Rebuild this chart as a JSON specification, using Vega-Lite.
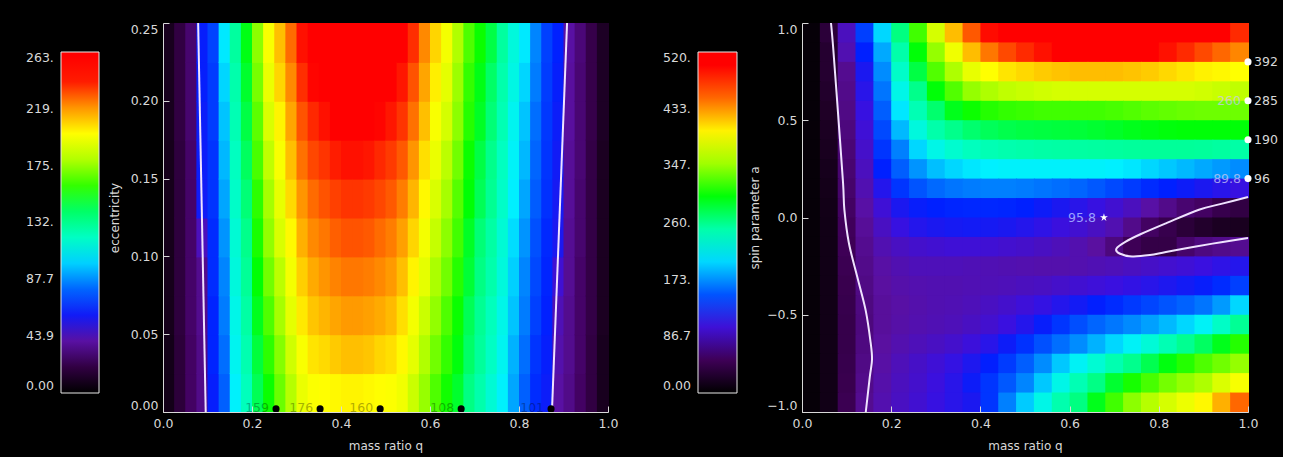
{
"$schema": "https://vega.github.io/schema/vega-lite/v6.json",
"background": "black",
"padding": {"left": 61, "top": 19, "right": 5, "bottom": 5},
"bounds": "flush",
"spacing": 194,
"resolve": {"scale": {"color": "independent"}, "legend": {"color": "independent"}},
"datasets": {
"lh": [
{"q":0,"e":0,"v":8},{"q":0,"e":0.025,"v":8},{"q":0,"e":0.05,"v":9},{"q":0,"e":0.075,"v":9},{"q":0,"e":0.1,"v":9},{"q":0,"e":0.125,"v":9},{"q":0,"e":0.15,"v":9},{"q":0,"e":0.175,"v":10},{"q":0,"e":0.2,"v":10},{"q":0,"e":0.225,"v":10},
{"q":0.025,"e":0,"v":18},{"q":0.025,"e":0.025,"v":18},{"q":0.025,"e":0.05,"v":19},{"q":0.025,"e":0.075,"v":19},{"q":0.025,"e":0.1,"v":19},{"q":0.025,"e":0.125,"v":19},{"q":0.025,"e":0.15,"v":19},{"q":0.025,"e":0.175,"v":20},{"q":0.025,"e":0.2,"v":20},{"q":0.025,"e":0.225,"v":20},
{"q":0.05,"e":0,"v":28},{"q":0.05,"e":0.025,"v":28},{"q":0.05,"e":0.05,"v":29},{"q":0.05,"e":0.075,"v":29},{"q":0.05,"e":0.1,"v":29},{"q":0.05,"e":0.125,"v":29},{"q":0.05,"e":0.15,"v":29},{"q":0.05,"e":0.175,"v":30},{"q":0.05,"e":0.2,"v":30},{"q":0.05,"e":0.225,"v":30},
{"q":0.075,"e":0,"v":35},{"q":0.075,"e":0.025,"v":35},{"q":0.075,"e":0.05,"v":36},{"q":0.075,"e":0.075,"v":36},{"q":0.075,"e":0.1,"v":45},{"q":0.075,"e":0.125,"v":60},{"q":0.075,"e":0.15,"v":61},{"q":0.075,"e":0.175,"v":61},{"q":0.075,"e":0.2,"v":62},{"q":0.075,"e":0.225,"v":62},
{"q":0.1,"e":0,"v":62},{"q":0.1,"e":0.025,"v":64},{"q":0.1,"e":0.05,"v":64},{"q":0.1,"e":0.075,"v":66},{"q":0.1,"e":0.1,"v":66},{"q":0.1,"e":0.125,"v":68},{"q":0.1,"e":0.15,"v":68},{"q":0.1,"e":0.175,"v":70},{"q":0.1,"e":0.2,"v":70},{"q":0.1,"e":0.225,"v":72},
{"q":0.125,"e":0,"v":79},{"q":0.125,"e":0.025,"v":82},{"q":0.125,"e":0.05,"v":85},{"q":0.125,"e":0.075,"v":87},{"q":0.125,"e":0.1,"v":90},{"q":0.125,"e":0.125,"v":93},{"q":0.125,"e":0.15,"v":96},{"q":0.125,"e":0.175,"v":98},{"q":0.125,"e":0.2,"v":101},{"q":0.125,"e":0.225,"v":104},
{"q":0.15,"e":0,"v":106},{"q":0.15,"e":0.025,"v":109},{"q":0.15,"e":0.05,"v":111},{"q":0.15,"e":0.075,"v":114},{"q":0.15,"e":0.1,"v":116},{"q":0.15,"e":0.125,"v":119},{"q":0.15,"e":0.15,"v":121},{"q":0.15,"e":0.175,"v":124},{"q":0.15,"e":0.2,"v":126},{"q":0.15,"e":0.225,"v":129},
{"q":0.175,"e":0,"v":122},{"q":0.175,"e":0.025,"v":125},{"q":0.175,"e":0.05,"v":128},{"q":0.175,"e":0.075,"v":131},{"q":0.175,"e":0.1,"v":134},{"q":0.175,"e":0.125,"v":138},{"q":0.175,"e":0.15,"v":141},{"q":0.175,"e":0.175,"v":144},{"q":0.175,"e":0.2,"v":147},{"q":0.175,"e":0.225,"v":150},
{"q":0.2,"e":0,"v":142},{"q":0.2,"e":0.025,"v":145},{"q":0.2,"e":0.05,"v":149},{"q":0.2,"e":0.075,"v":152},{"q":0.2,"e":0.1,"v":156},{"q":0.2,"e":0.125,"v":159},{"q":0.2,"e":0.15,"v":163},{"q":0.2,"e":0.175,"v":166},{"q":0.2,"e":0.2,"v":170},{"q":0.2,"e":0.225,"v":173},
{"q":0.225,"e":0,"v":154},{"q":0.225,"e":0.025,"v":159},{"q":0.225,"e":0.05,"v":164},{"q":0.225,"e":0.075,"v":169},{"q":0.225,"e":0.1,"v":174},{"q":0.225,"e":0.125,"v":178},{"q":0.225,"e":0.15,"v":183},{"q":0.225,"e":0.175,"v":188},{"q":0.225,"e":0.2,"v":193},{"q":0.225,"e":0.225,"v":198},
{"q":0.25,"e":0,"v":168},{"q":0.25,"e":0.025,"v":172},{"q":0.25,"e":0.05,"v":178},{"q":0.25,"e":0.075,"v":182},{"q":0.25,"e":0.1,"v":188},{"q":0.25,"e":0.125,"v":192},{"q":0.25,"e":0.15,"v":198},{"q":0.25,"e":0.175,"v":202},{"q":0.25,"e":0.2,"v":208},{"q":0.25,"e":0.225,"v":212},
{"q":0.275,"e":0,"v":181},{"q":0.275,"e":0.025,"v":186},{"q":0.275,"e":0.05,"v":191},{"q":0.275,"e":0.075,"v":196},{"q":0.275,"e":0.1,"v":201},{"q":0.275,"e":0.125,"v":207},{"q":0.275,"e":0.15,"v":212},{"q":0.275,"e":0.175,"v":217},{"q":0.275,"e":0.2,"v":222},{"q":0.275,"e":0.225,"v":227},
{"q":0.3,"e":0,"v":193},{"q":0.3,"e":0.025,"v":198},{"q":0.3,"e":0.05,"v":204},{"q":0.3,"e":0.075,"v":209},{"q":0.3,"e":0.1,"v":215},{"q":0.3,"e":0.125,"v":220},{"q":0.3,"e":0.15,"v":226},{"q":0.3,"e":0.175,"v":231},{"q":0.3,"e":0.2,"v":237},{"q":0.3,"e":0.225,"v":242},
{"q":0.325,"e":0,"v":199},{"q":0.325,"e":0.025,"v":205},{"q":0.325,"e":0.05,"v":211},{"q":0.325,"e":0.075,"v":216},{"q":0.325,"e":0.1,"v":222},{"q":0.325,"e":0.125,"v":227},{"q":0.325,"e":0.15,"v":233},{"q":0.325,"e":0.175,"v":238},{"q":0.325,"e":0.2,"v":244},{"q":0.325,"e":0.225,"v":249},
{"q":0.35,"e":0,"v":200},{"q":0.35,"e":0.025,"v":207},{"q":0.35,"e":0.05,"v":214},{"q":0.35,"e":0.075,"v":220},{"q":0.35,"e":0.1,"v":225},{"q":0.35,"e":0.125,"v":231},{"q":0.35,"e":0.15,"v":236},{"q":0.35,"e":0.175,"v":242},{"q":0.35,"e":0.2,"v":248},{"q":0.35,"e":0.225,"v":253},
{"q":0.375,"e":0,"v":201},{"q":0.375,"e":0.025,"v":210},{"q":0.375,"e":0.05,"v":217},{"q":0.375,"e":0.075,"v":223},{"q":0.375,"e":0.1,"v":229},{"q":0.375,"e":0.125,"v":234},{"q":0.375,"e":0.15,"v":240},{"q":0.375,"e":0.175,"v":246},{"q":0.375,"e":0.2,"v":251},{"q":0.375,"e":0.225,"v":257},
{"q":0.4,"e":0,"v":202},{"q":0.4,"e":0.025,"v":212},{"q":0.4,"e":0.05,"v":219},{"q":0.4,"e":0.075,"v":225},{"q":0.4,"e":0.1,"v":231},{"q":0.4,"e":0.125,"v":236},{"q":0.4,"e":0.15,"v":242},{"q":0.4,"e":0.175,"v":248},{"q":0.4,"e":0.2,"v":253},{"q":0.4,"e":0.225,"v":259},
{"q":0.425,"e":0,"v":202},{"q":0.425,"e":0.025,"v":212},{"q":0.425,"e":0.05,"v":219},{"q":0.425,"e":0.075,"v":225},{"q":0.425,"e":0.1,"v":231},{"q":0.425,"e":0.125,"v":236},{"q":0.425,"e":0.15,"v":242},{"q":0.425,"e":0.175,"v":248},{"q":0.425,"e":0.2,"v":253},{"q":0.425,"e":0.225,"v":260},
{"q":0.45,"e":0,"v":201},{"q":0.45,"e":0.025,"v":211},{"q":0.45,"e":0.05,"v":218},{"q":0.45,"e":0.075,"v":224},{"q":0.45,"e":0.1,"v":230},{"q":0.45,"e":0.125,"v":235},{"q":0.45,"e":0.15,"v":241},{"q":0.45,"e":0.175,"v":247},{"q":0.45,"e":0.2,"v":252},{"q":0.45,"e":0.225,"v":258},
{"q":0.475,"e":0,"v":200},{"q":0.475,"e":0.025,"v":208},{"q":0.475,"e":0.05,"v":216},{"q":0.475,"e":0.075,"v":222},{"q":0.475,"e":0.1,"v":227},{"q":0.475,"e":0.125,"v":233},{"q":0.475,"e":0.15,"v":238},{"q":0.475,"e":0.175,"v":244},{"q":0.475,"e":0.2,"v":250},{"q":0.475,"e":0.225,"v":255},
{"q":0.5,"e":0,"v":199},{"q":0.5,"e":0.025,"v":206},{"q":0.5,"e":0.05,"v":213},{"q":0.5,"e":0.075,"v":219},{"q":0.5,"e":0.1,"v":224},{"q":0.5,"e":0.125,"v":230},{"q":0.5,"e":0.15,"v":235},{"q":0.5,"e":0.175,"v":241},{"q":0.5,"e":0.2,"v":247},{"q":0.5,"e":0.225,"v":252},
{"q":0.525,"e":0,"v":195},{"q":0.525,"e":0.025,"v":201},{"q":0.525,"e":0.05,"v":206},{"q":0.525,"e":0.075,"v":212},{"q":0.525,"e":0.1,"v":218},{"q":0.525,"e":0.125,"v":224},{"q":0.525,"e":0.15,"v":230},{"q":0.525,"e":0.175,"v":236},{"q":0.525,"e":0.2,"v":241},{"q":0.525,"e":0.225,"v":247},
{"q":0.55,"e":0,"v":185},{"q":0.55,"e":0.025,"v":191},{"q":0.55,"e":0.05,"v":196},{"q":0.55,"e":0.075,"v":202},{"q":0.55,"e":0.1,"v":208},{"q":0.55,"e":0.125,"v":214},{"q":0.55,"e":0.15,"v":220},{"q":0.55,"e":0.175,"v":226},{"q":0.55,"e":0.2,"v":231},{"q":0.55,"e":0.225,"v":237},
{"q":0.575,"e":0,"v":175},{"q":0.575,"e":0.025,"v":180},{"q":0.575,"e":0.05,"v":185},{"q":0.575,"e":0.075,"v":191},{"q":0.575,"e":0.1,"v":196},{"q":0.575,"e":0.125,"v":201},{"q":0.575,"e":0.15,"v":206},{"q":0.575,"e":0.175,"v":212},{"q":0.575,"e":0.2,"v":217},{"q":0.575,"e":0.225,"v":222},
{"q":0.6,"e":0,"v":164},{"q":0.6,"e":0.025,"v":169},{"q":0.6,"e":0.05,"v":174},{"q":0.6,"e":0.075,"v":179},{"q":0.6,"e":0.1,"v":184},{"q":0.6,"e":0.125,"v":188},{"q":0.6,"e":0.15,"v":193},{"q":0.6,"e":0.175,"v":198},{"q":0.6,"e":0.2,"v":203},{"q":0.6,"e":0.225,"v":208},
{"q":0.625,"e":0,"v":155},{"q":0.625,"e":0.025,"v":160},{"q":0.625,"e":0.05,"v":164},{"q":0.625,"e":0.075,"v":169},{"q":0.625,"e":0.1,"v":173},{"q":0.625,"e":0.125,"v":178},{"q":0.625,"e":0.15,"v":182},{"q":0.625,"e":0.175,"v":187},{"q":0.625,"e":0.2,"v":191},{"q":0.625,"e":0.225,"v":196},
{"q":0.65,"e":0,"v":147},{"q":0.65,"e":0.025,"v":151},{"q":0.65,"e":0.05,"v":154},{"q":0.65,"e":0.075,"v":158},{"q":0.65,"e":0.1,"v":162},{"q":0.65,"e":0.125,"v":165},{"q":0.65,"e":0.15,"v":169},{"q":0.65,"e":0.175,"v":173},{"q":0.65,"e":0.2,"v":176},{"q":0.65,"e":0.225,"v":180},
{"q":0.675,"e":0,"v":136},{"q":0.675,"e":0.025,"v":140},{"q":0.675,"e":0.05,"v":142},{"q":0.675,"e":0.075,"v":146},{"q":0.675,"e":0.1,"v":148},{"q":0.675,"e":0.125,"v":152},{"q":0.675,"e":0.15,"v":154},{"q":0.675,"e":0.175,"v":158},{"q":0.675,"e":0.2,"v":160},{"q":0.675,"e":0.225,"v":164},
{"q":0.7,"e":0,"v":126},{"q":0.7,"e":0.025,"v":130},{"q":0.7,"e":0.05,"v":132},{"q":0.7,"e":0.075,"v":136},{"q":0.7,"e":0.1,"v":138},{"q":0.7,"e":0.125,"v":142},{"q":0.7,"e":0.15,"v":144},{"q":0.7,"e":0.175,"v":148},{"q":0.7,"e":0.2,"v":150},{"q":0.7,"e":0.225,"v":154},
{"q":0.725,"e":0,"v":116},{"q":0.725,"e":0.025,"v":120},{"q":0.725,"e":0.05,"v":122},{"q":0.725,"e":0.075,"v":126},{"q":0.725,"e":0.1,"v":128},{"q":0.725,"e":0.125,"v":132},{"q":0.725,"e":0.15,"v":134},{"q":0.725,"e":0.175,"v":138},{"q":0.725,"e":0.2,"v":140},{"q":0.725,"e":0.225,"v":144},
{"q":0.75,"e":0,"v":106},{"q":0.75,"e":0.025,"v":109},{"q":0.75,"e":0.05,"v":111},{"q":0.75,"e":0.075,"v":114},{"q":0.75,"e":0.1,"v":116},{"q":0.75,"e":0.125,"v":119},{"q":0.75,"e":0.15,"v":121},{"q":0.75,"e":0.175,"v":124},{"q":0.75,"e":0.2,"v":126},{"q":0.75,"e":0.225,"v":129},
{"q":0.775,"e":0,"v":93},{"q":0.775,"e":0.025,"v":95},{"q":0.775,"e":0.05,"v":98},{"q":0.775,"e":0.075,"v":100},{"q":0.775,"e":0.1,"v":102},{"q":0.775,"e":0.125,"v":105},{"q":0.775,"e":0.15,"v":107},{"q":0.775,"e":0.175,"v":109},{"q":0.775,"e":0.2,"v":112},{"q":0.775,"e":0.225,"v":114},
{"q":0.8,"e":0,"v":79},{"q":0.8,"e":0.025,"v":82},{"q":0.8,"e":0.05,"v":85},{"q":0.8,"e":0.075,"v":87},{"q":0.8,"e":0.1,"v":90},{"q":0.8,"e":0.125,"v":93},{"q":0.8,"e":0.15,"v":96},{"q":0.8,"e":0.175,"v":98},{"q":0.8,"e":0.2,"v":101},{"q":0.8,"e":0.225,"v":104},
{"q":0.825,"e":0,"v":66},{"q":0.825,"e":0.025,"v":68},{"q":0.825,"e":0.05,"v":71},{"q":0.825,"e":0.075,"v":73},{"q":0.825,"e":0.1,"v":75},{"q":0.825,"e":0.125,"v":78},{"q":0.825,"e":0.15,"v":80},{"q":0.825,"e":0.175,"v":82},{"q":0.825,"e":0.2,"v":85},{"q":0.825,"e":0.225,"v":87},
{"q":0.85,"e":0,"v":61},{"q":0.85,"e":0.025,"v":62},{"q":0.85,"e":0.05,"v":63},{"q":0.85,"e":0.075,"v":64},{"q":0.85,"e":0.1,"v":65},{"q":0.85,"e":0.125,"v":67},{"q":0.85,"e":0.15,"v":68},{"q":0.85,"e":0.175,"v":69},{"q":0.85,"e":0.2,"v":70},{"q":0.85,"e":0.225,"v":71},
{"q":0.875,"e":0,"v":40},{"q":0.875,"e":0.025,"v":42},{"q":0.875,"e":0.05,"v":44},{"q":0.875,"e":0.075,"v":50},{"q":0.875,"e":0.1,"v":58},{"q":0.875,"e":0.125,"v":59},{"q":0.875,"e":0.15,"v":60},{"q":0.875,"e":0.175,"v":61},{"q":0.875,"e":0.2,"v":62},{"q":0.875,"e":0.225,"v":63},
{"q":0.9,"e":0,"v":35},{"q":0.9,"e":0.025,"v":36},{"q":0.9,"e":0.05,"v":36},{"q":0.9,"e":0.075,"v":37},{"q":0.9,"e":0.1,"v":37},{"q":0.9,"e":0.125,"v":38},{"q":0.9,"e":0.15,"v":38},{"q":0.9,"e":0.175,"v":39},{"q":0.9,"e":0.2,"v":39},{"q":0.9,"e":0.225,"v":40},
{"q":0.925,"e":0,"v":28},{"q":0.925,"e":0.025,"v":29},{"q":0.925,"e":0.05,"v":29},{"q":0.925,"e":0.075,"v":29},{"q":0.925,"e":0.1,"v":30},{"q":0.925,"e":0.125,"v":30},{"q":0.925,"e":0.15,"v":31},{"q":0.925,"e":0.175,"v":31},{"q":0.925,"e":0.2,"v":31},{"q":0.925,"e":0.225,"v":32},
{"q":0.95,"e":0,"v":20},{"q":0.95,"e":0.025,"v":20},{"q":0.95,"e":0.05,"v":21},{"q":0.95,"e":0.075,"v":21},{"q":0.95,"e":0.1,"v":21},{"q":0.95,"e":0.125,"v":21},{"q":0.95,"e":0.15,"v":21},{"q":0.95,"e":0.175,"v":22},{"q":0.95,"e":0.2,"v":22},{"q":0.95,"e":0.225,"v":22},
{"q":0.975,"e":0,"v":10},{"q":0.975,"e":0.025,"v":10},{"q":0.975,"e":0.05,"v":11},{"q":0.975,"e":0.075,"v":11},{"q":0.975,"e":0.1,"v":11},{"q":0.975,"e":0.125,"v":11},{"q":0.975,"e":0.15,"v":11},{"q":0.975,"e":0.175,"v":12},{"q":0.975,"e":0.2,"v":12},{"q":0.975,"e":0.225,"v":12}
],
"rh": [
{"a":0.9,"q":0,"v":5},{"a":0.9,"q":0.04,"v":35},{"a":0.9,"q":0.08,"v":90},{"a":0.9,"q":0.12,"v":140},{"a":0.9,"q":0.16,"v":200},{"a":0.9,"q":0.2,"v":270},{"a":0.9,"q":0.24,"v":320},{"a":0.9,"q":0.28,"v":370},{"a":0.9,"q":0.32,"v":420},{"a":0.9,"q":0.36,"v":455},{"a":0.9,"q":0.4,"v":480},{"a":0.9,"q":0.44,"v":495},{"a":0.9,"q":0.48,"v":505},{"a":0.9,"q":0.52,"v":510},{"a":0.9,"q":0.56,"v":515},{"a":0.9,"q":0.6,"v":518},{"a":0.9,"q":0.64,"v":518},{"a":0.9,"q":0.68,"v":518},{"a":0.9,"q":0.72,"v":515},{"a":0.9,"q":0.76,"v":512},{"a":0.9,"q":0.8,"v":508},{"a":0.9,"q":0.84,"v":500},{"a":0.9,"q":0.88,"v":495},{"a":0.9,"q":0.92,"v":485},{"a":0.9,"q":0.96,"v":470},
{"a":0.8,"q":0,"v":5},{"a":0.8,"q":0.04,"v":30},{"a":0.8,"q":0.08,"v":85},{"a":0.8,"q":0.12,"v":125},{"a":0.8,"q":0.16,"v":185},{"a":0.8,"q":0.2,"v":250},{"a":0.8,"q":0.24,"v":300},{"a":0.8,"q":0.28,"v":345},{"a":0.8,"q":0.32,"v":385},{"a":0.8,"q":0.36,"v":420},{"a":0.8,"q":0.4,"v":445},{"a":0.8,"q":0.44,"v":460},{"a":0.8,"q":0.48,"v":470},{"a":0.8,"q":0.52,"v":478},{"a":0.8,"q":0.56,"v":485},{"a":0.8,"q":0.6,"v":488},{"a":0.8,"q":0.64,"v":490},{"a":0.8,"q":0.68,"v":490},{"a":0.8,"q":0.72,"v":488},{"a":0.8,"q":0.76,"v":485},{"a":0.8,"q":0.8,"v":478},{"a":0.8,"q":0.84,"v":470},{"a":0.8,"q":0.88,"v":460},{"a":0.8,"q":0.92,"v":450},{"a":0.8,"q":0.96,"v":440},
{"a":0.7,"q":0,"v":5},{"a":0.7,"q":0.04,"v":30},{"a":0.7,"q":0.08,"v":72},{"a":0.7,"q":0.12,"v":115},{"a":0.7,"q":0.16,"v":175},{"a":0.7,"q":0.2,"v":235},{"a":0.7,"q":0.24,"v":285},{"a":0.7,"q":0.28,"v":325},{"a":0.7,"q":0.32,"v":355},{"a":0.7,"q":0.36,"v":380},{"a":0.7,"q":0.4,"v":395},{"a":0.7,"q":0.44,"v":405},{"a":0.7,"q":0.48,"v":410},{"a":0.7,"q":0.52,"v":415},{"a":0.7,"q":0.56,"v":418},{"a":0.7,"q":0.6,"v":420},{"a":0.7,"q":0.64,"v":420},{"a":0.7,"q":0.68,"v":420},{"a":0.7,"q":0.72,"v":418},{"a":0.7,"q":0.76,"v":415},{"a":0.7,"q":0.8,"v":410},{"a":0.7,"q":0.84,"v":405},{"a":0.7,"q":0.88,"v":400},{"a":0.7,"q":0.92,"v":398},{"a":0.7,"q":0.96,"v":395},
{"a":0.6,"q":0,"v":5},{"a":0.6,"q":0.04,"v":28},{"a":0.6,"q":0.08,"v":70},{"a":0.6,"q":0.12,"v":110},{"a":0.6,"q":0.16,"v":165},{"a":0.6,"q":0.2,"v":220},{"a":0.6,"q":0.24,"v":265},{"a":0.6,"q":0.28,"v":300},{"a":0.6,"q":0.32,"v":325},{"a":0.6,"q":0.36,"v":345},{"a":0.6,"q":0.4,"v":355},{"a":0.6,"q":0.44,"v":362},{"a":0.6,"q":0.48,"v":365},{"a":0.6,"q":0.52,"v":368},{"a":0.6,"q":0.56,"v":370},{"a":0.6,"q":0.6,"v":370},{"a":0.6,"q":0.64,"v":370},{"a":0.6,"q":0.68,"v":370},{"a":0.6,"q":0.72,"v":370},{"a":0.6,"q":0.76,"v":370},{"a":0.6,"q":0.8,"v":370},{"a":0.6,"q":0.84,"v":370},{"a":0.6,"q":0.88,"v":368},{"a":0.6,"q":0.92,"v":365},{"a":0.6,"q":0.96,"v":362},
{"a":0.5,"q":0,"v":5},{"a":0.5,"q":0.04,"v":25},{"a":0.5,"q":0.08,"v":68},{"a":0.5,"q":0.12,"v":105},{"a":0.5,"q":0.16,"v":155},{"a":0.5,"q":0.2,"v":205},{"a":0.5,"q":0.24,"v":245},{"a":0.5,"q":0.28,"v":275},{"a":0.5,"q":0.32,"v":295},{"a":0.5,"q":0.36,"v":305},{"a":0.5,"q":0.4,"v":312},{"a":0.5,"q":0.44,"v":316},{"a":0.5,"q":0.48,"v":318},{"a":0.5,"q":0.52,"v":320},{"a":0.5,"q":0.56,"v":320},{"a":0.5,"q":0.6,"v":320},{"a":0.5,"q":0.64,"v":320},{"a":0.5,"q":0.68,"v":322},{"a":0.5,"q":0.72,"v":325},{"a":0.5,"q":0.76,"v":328},{"a":0.5,"q":0.8,"v":330},{"a":0.5,"q":0.84,"v":332},{"a":0.5,"q":0.88,"v":333},{"a":0.5,"q":0.92,"v":333},{"a":0.5,"q":0.96,"v":333},
{"a":0.4,"q":0,"v":5},{"a":0.4,"q":0.04,"v":22},{"a":0.4,"q":0.08,"v":65},{"a":0.4,"q":0.12,"v":100},{"a":0.4,"q":0.16,"v":145},{"a":0.4,"q":0.2,"v":190},{"a":0.4,"q":0.24,"v":225},{"a":0.4,"q":0.28,"v":250},{"a":0.4,"q":0.32,"v":265},{"a":0.4,"q":0.36,"v":275},{"a":0.4,"q":0.4,"v":280},{"a":0.4,"q":0.44,"v":283},{"a":0.4,"q":0.48,"v":285},{"a":0.4,"q":0.52,"v":286},{"a":0.4,"q":0.56,"v":287},{"a":0.4,"q":0.6,"v":288},{"a":0.4,"q":0.64,"v":290},{"a":0.4,"q":0.68,"v":292},{"a":0.4,"q":0.72,"v":295},{"a":0.4,"q":0.76,"v":297},{"a":0.4,"q":0.8,"v":299},{"a":0.4,"q":0.84,"v":300},{"a":0.4,"q":0.88,"v":300},{"a":0.4,"q":0.92,"v":300},{"a":0.4,"q":0.96,"v":300},
{"a":0.3,"q":0,"v":5},{"a":0.3,"q":0.04,"v":20},{"a":0.3,"q":0.08,"v":62},{"a":0.3,"q":0.12,"v":95},{"a":0.3,"q":0.16,"v":135},{"a":0.3,"q":0.2,"v":170},{"a":0.3,"q":0.24,"v":200},{"a":0.3,"q":0.28,"v":220},{"a":0.3,"q":0.32,"v":232},{"a":0.3,"q":0.36,"v":240},{"a":0.3,"q":0.4,"v":245},{"a":0.3,"q":0.44,"v":248},{"a":0.3,"q":0.48,"v":250},{"a":0.3,"q":0.52,"v":252},{"a":0.3,"q":0.56,"v":253},{"a":0.3,"q":0.6,"v":254},{"a":0.3,"q":0.64,"v":255},{"a":0.3,"q":0.68,"v":256},{"a":0.3,"q":0.72,"v":257},{"a":0.3,"q":0.76,"v":258},{"a":0.3,"q":0.8,"v":258},{"a":0.3,"q":0.84,"v":258},{"a":0.3,"q":0.88,"v":257},{"a":0.3,"q":0.92,"v":255},{"a":0.3,"q":0.96,"v":252},
{"a":0.2,"q":0,"v":5},{"a":0.2,"q":0.04,"v":18},{"a":0.2,"q":0.08,"v":60},{"a":0.2,"q":0.12,"v":90},{"a":0.2,"q":0.16,"v":125},{"a":0.2,"q":0.2,"v":155},{"a":0.2,"q":0.24,"v":178},{"a":0.2,"q":0.28,"v":192},{"a":0.2,"q":0.32,"v":200},{"a":0.2,"q":0.36,"v":205},{"a":0.2,"q":0.4,"v":208},{"a":0.2,"q":0.44,"v":210},{"a":0.2,"q":0.48,"v":210},{"a":0.2,"q":0.52,"v":210},{"a":0.2,"q":0.56,"v":210},{"a":0.2,"q":0.6,"v":210},{"a":0.2,"q":0.64,"v":210},{"a":0.2,"q":0.68,"v":208},{"a":0.2,"q":0.72,"v":205},{"a":0.2,"q":0.76,"v":200},{"a":0.2,"q":0.8,"v":195},{"a":0.2,"q":0.84,"v":190},{"a":0.2,"q":0.88,"v":185},{"a":0.2,"q":0.92,"v":180},{"a":0.2,"q":0.96,"v":175},
{"a":0.1,"q":0,"v":5},{"a":0.1,"q":0.04,"v":16},{"a":0.1,"q":0.08,"v":58},{"a":0.1,"q":0.12,"v":85},{"a":0.1,"q":0.16,"v":112},{"a":0.1,"q":0.2,"v":135},{"a":0.1,"q":0.24,"v":150},{"a":0.1,"q":0.28,"v":160},{"a":0.1,"q":0.32,"v":165},{"a":0.1,"q":0.36,"v":168},{"a":0.1,"q":0.4,"v":170},{"a":0.1,"q":0.44,"v":170},{"a":0.1,"q":0.48,"v":168},{"a":0.1,"q":0.52,"v":165},{"a":0.1,"q":0.56,"v":162},{"a":0.1,"q":0.6,"v":158},{"a":0.1,"q":0.64,"v":152},{"a":0.1,"q":0.68,"v":145},{"a":0.1,"q":0.72,"v":138},{"a":0.1,"q":0.76,"v":130},{"a":0.1,"q":0.8,"v":125},{"a":0.1,"q":0.84,"v":120},{"a":0.1,"q":0.88,"v":115},{"a":0.1,"q":0.92,"v":110},{"a":0.1,"q":0.96,"v":105},
{"a":0,"q":0,"v":5},{"a":0,"q":0.04,"v":15},{"a":0,"q":0.08,"v":55},{"a":0,"q":0.12,"v":80},{"a":0,"q":0.16,"v":100},{"a":0,"q":0.2,"v":115},{"a":0,"q":0.24,"v":122},{"a":0,"q":0.28,"v":125},{"a":0,"q":0.32,"v":127},{"a":0,"q":0.36,"v":128},{"a":0,"q":0.4,"v":128},{"a":0,"q":0.44,"v":127},{"a":0,"q":0.48,"v":125},{"a":0,"q":0.52,"v":120},{"a":0,"q":0.56,"v":115},{"a":0,"q":0.6,"v":110},{"a":0,"q":0.64,"v":105},{"a":0,"q":0.68,"v":98},{"a":0,"q":0.72,"v":90},{"a":0,"q":0.76,"v":80},{"a":0,"q":0.8,"v":70},{"a":0,"q":0.84,"v":60},{"a":0,"q":0.88,"v":55},{"a":0,"q":0.92,"v":45},{"a":0,"q":0.96,"v":40},
{"a":-0.1,"q":0,"v":5},{"a":-0.1,"q":0.04,"v":14},{"a":-0.1,"q":0.08,"v":52},{"a":-0.1,"q":0.12,"v":75},{"a":-0.1,"q":0.16,"v":92},{"a":-0.1,"q":0.2,"v":105},{"a":-0.1,"q":0.24,"v":112},{"a":-0.1,"q":0.28,"v":115},{"a":-0.1,"q":0.32,"v":117},{"a":-0.1,"q":0.36,"v":118},{"a":-0.1,"q":0.4,"v":117},{"a":-0.1,"q":0.44,"v":115},{"a":-0.1,"q":0.48,"v":112},{"a":-0.1,"q":0.52,"v":108},{"a":-0.1,"q":0.56,"v":103},{"a":-0.1,"q":0.6,"v":98},{"a":-0.1,"q":0.64,"v":92},{"a":-0.1,"q":0.68,"v":85},{"a":-0.1,"q":0.72,"v":70},{"a":-0.1,"q":0.76,"v":55},{"a":-0.1,"q":0.8,"v":45},{"a":-0.1,"q":0.84,"v":35},{"a":-0.1,"q":0.88,"v":28},{"a":-0.1,"q":0.92,"v":22},{"a":-0.1,"q":0.96,"v":20},
{"a":-0.2,"q":0,"v":5},{"a":-0.2,"q":0.04,"v":14},{"a":-0.2,"q":0.08,"v":50},{"a":-0.2,"q":0.12,"v":72},{"a":-0.2,"q":0.16,"v":85},{"a":-0.2,"q":0.2,"v":92},{"a":-0.2,"q":0.24,"v":96},{"a":-0.2,"q":0.28,"v":98},{"a":-0.2,"q":0.32,"v":100},{"a":-0.2,"q":0.36,"v":100},{"a":-0.2,"q":0.4,"v":99},{"a":-0.2,"q":0.44,"v":97},{"a":-0.2,"q":0.48,"v":95},{"a":-0.2,"q":0.52,"v":92},{"a":-0.2,"q":0.56,"v":88},{"a":-0.2,"q":0.6,"v":84},{"a":-0.2,"q":0.64,"v":78},{"a":-0.2,"q":0.68,"v":65},{"a":-0.2,"q":0.72,"v":50},{"a":-0.2,"q":0.76,"v":42},{"a":-0.2,"q":0.8,"v":42},{"a":-0.2,"q":0.84,"v":58},{"a":-0.2,"q":0.88,"v":66},{"a":-0.2,"q":0.92,"v":70},{"a":-0.2,"q":0.96,"v":72},
{"a":-0.3,"q":0,"v":5},{"a":-0.3,"q":0.04,"v":14},{"a":-0.3,"q":0.08,"v":48},{"a":-0.3,"q":0.12,"v":70},{"a":-0.3,"q":0.16,"v":80},{"a":-0.3,"q":0.2,"v":85},{"a":-0.3,"q":0.24,"v":88},{"a":-0.3,"q":0.28,"v":88},{"a":-0.3,"q":0.32,"v":88},{"a":-0.3,"q":0.36,"v":87},{"a":-0.3,"q":0.4,"v":86},{"a":-0.3,"q":0.44,"v":85},{"a":-0.3,"q":0.48,"v":84},{"a":-0.3,"q":0.52,"v":83},{"a":-0.3,"q":0.56,"v":83},{"a":-0.3,"q":0.6,"v":84},{"a":-0.3,"q":0.64,"v":86},{"a":-0.3,"q":0.68,"v":88},{"a":-0.3,"q":0.72,"v":91},{"a":-0.3,"q":0.76,"v":94},{"a":-0.3,"q":0.8,"v":97},{"a":-0.3,"q":0.84,"v":100},{"a":-0.3,"q":0.88,"v":104},{"a":-0.3,"q":0.92,"v":108},{"a":-0.3,"q":0.96,"v":112},
{"a":-0.4,"q":0,"v":5},{"a":-0.4,"q":0.04,"v":14},{"a":-0.4,"q":0.08,"v":46},{"a":-0.4,"q":0.12,"v":68},{"a":-0.4,"q":0.16,"v":78},{"a":-0.4,"q":0.2,"v":82},{"a":-0.4,"q":0.24,"v":84},{"a":-0.4,"q":0.28,"v":85},{"a":-0.4,"q":0.32,"v":85},{"a":-0.4,"q":0.36,"v":86},{"a":-0.4,"q":0.4,"v":87},{"a":-0.4,"q":0.44,"v":88},{"a":-0.4,"q":0.48,"v":90},{"a":-0.4,"q":0.52,"v":92},{"a":-0.4,"q":0.56,"v":95},{"a":-0.4,"q":0.6,"v":98},{"a":-0.4,"q":0.64,"v":101},{"a":-0.4,"q":0.68,"v":104},{"a":-0.4,"q":0.72,"v":107},{"a":-0.4,"q":0.76,"v":110},{"a":-0.4,"q":0.8,"v":114},{"a":-0.4,"q":0.84,"v":118},{"a":-0.4,"q":0.88,"v":122},{"a":-0.4,"q":0.92,"v":130},{"a":-0.4,"q":0.96,"v":140},
{"a":-0.5,"q":0,"v":5},{"a":-0.5,"q":0.04,"v":14},{"a":-0.5,"q":0.08,"v":45},{"a":-0.5,"q":0.12,"v":66},{"a":-0.5,"q":0.16,"v":76},{"a":-0.5,"q":0.2,"v":80},{"a":-0.5,"q":0.24,"v":83},{"a":-0.5,"q":0.28,"v":85},{"a":-0.5,"q":0.32,"v":86},{"a":-0.5,"q":0.36,"v":88},{"a":-0.5,"q":0.4,"v":92},{"a":-0.5,"q":0.44,"v":96},{"a":-0.5,"q":0.48,"v":101},{"a":-0.5,"q":0.52,"v":106},{"a":-0.5,"q":0.56,"v":112},{"a":-0.5,"q":0.6,"v":118},{"a":-0.5,"q":0.64,"v":124},{"a":-0.5,"q":0.68,"v":130},{"a":-0.5,"q":0.72,"v":137},{"a":-0.5,"q":0.76,"v":143},{"a":-0.5,"q":0.8,"v":150},{"a":-0.5,"q":0.84,"v":157},{"a":-0.5,"q":0.88,"v":165},{"a":-0.5,"q":0.92,"v":180},{"a":-0.5,"q":0.96,"v":200},
{"a":-0.6,"q":0,"v":5},{"a":-0.6,"q":0.04,"v":14},{"a":-0.6,"q":0.08,"v":44},{"a":-0.6,"q":0.12,"v":65},{"a":-0.6,"q":0.16,"v":76},{"a":-0.6,"q":0.2,"v":81},{"a":-0.6,"q":0.24,"v":84},{"a":-0.6,"q":0.28,"v":86},{"a":-0.6,"q":0.32,"v":88},{"a":-0.6,"q":0.36,"v":92},{"a":-0.6,"q":0.4,"v":97},{"a":-0.6,"q":0.44,"v":104},{"a":-0.6,"q":0.48,"v":112},{"a":-0.6,"q":0.52,"v":122},{"a":-0.6,"q":0.56,"v":135},{"a":-0.6,"q":0.6,"v":147},{"a":-0.6,"q":0.64,"v":158},{"a":-0.6,"q":0.68,"v":166},{"a":-0.6,"q":0.72,"v":174},{"a":-0.6,"q":0.76,"v":182},{"a":-0.6,"q":0.8,"v":190},{"a":-0.6,"q":0.84,"v":200},{"a":-0.6,"q":0.88,"v":212},{"a":-0.6,"q":0.92,"v":236},{"a":-0.6,"q":0.96,"v":260},
{"a":-0.7,"q":0,"v":5},{"a":-0.7,"q":0.04,"v":14},{"a":-0.7,"q":0.08,"v":44},{"a":-0.7,"q":0.12,"v":66},{"a":-0.7,"q":0.16,"v":78},{"a":-0.7,"q":0.2,"v":84},{"a":-0.7,"q":0.24,"v":88},{"a":-0.7,"q":0.28,"v":92},{"a":-0.7,"q":0.32,"v":96},{"a":-0.7,"q":0.36,"v":102},{"a":-0.7,"q":0.4,"v":110},{"a":-0.7,"q":0.44,"v":120},{"a":-0.7,"q":0.48,"v":133},{"a":-0.7,"q":0.52,"v":148},{"a":-0.7,"q":0.56,"v":162},{"a":-0.7,"q":0.6,"v":175},{"a":-0.7,"q":0.64,"v":188},{"a":-0.7,"q":0.68,"v":200},{"a":-0.7,"q":0.72,"v":212},{"a":-0.7,"q":0.76,"v":228},{"a":-0.7,"q":0.8,"v":245},{"a":-0.7,"q":0.84,"v":262},{"a":-0.7,"q":0.88,"v":278},{"a":-0.7,"q":0.92,"v":295},{"a":-0.7,"q":0.96,"v":312},
{"a":-0.8,"q":0,"v":5},{"a":-0.8,"q":0.04,"v":14},{"a":-0.8,"q":0.08,"v":45},{"a":-0.8,"q":0.12,"v":68},{"a":-0.8,"q":0.16,"v":80},{"a":-0.8,"q":0.2,"v":88},{"a":-0.8,"q":0.24,"v":94},{"a":-0.8,"q":0.28,"v":100},{"a":-0.8,"q":0.32,"v":106},{"a":-0.8,"q":0.36,"v":114},{"a":-0.8,"q":0.4,"v":124},{"a":-0.8,"q":0.44,"v":138},{"a":-0.8,"q":0.48,"v":155},{"a":-0.8,"q":0.52,"v":175},{"a":-0.8,"q":0.56,"v":195},{"a":-0.8,"q":0.6,"v":213},{"a":-0.8,"q":0.64,"v":230},{"a":-0.8,"q":0.68,"v":247},{"a":-0.8,"q":0.72,"v":264},{"a":-0.8,"q":0.76,"v":282},{"a":-0.8,"q":0.8,"v":298},{"a":-0.8,"q":0.84,"v":312},{"a":-0.8,"q":0.88,"v":324},{"a":-0.8,"q":0.92,"v":334},{"a":-0.8,"q":0.96,"v":345},
{"a":-0.9,"q":0,"v":5},{"a":-0.9,"q":0.04,"v":14},{"a":-0.9,"q":0.08,"v":46},{"a":-0.9,"q":0.12,"v":70},{"a":-0.9,"q":0.16,"v":82},{"a":-0.9,"q":0.2,"v":90},{"a":-0.9,"q":0.24,"v":96},{"a":-0.9,"q":0.28,"v":103},{"a":-0.9,"q":0.32,"v":110},{"a":-0.9,"q":0.36,"v":120},{"a":-0.9,"q":0.4,"v":135},{"a":-0.9,"q":0.44,"v":152},{"a":-0.9,"q":0.48,"v":172},{"a":-0.9,"q":0.52,"v":195},{"a":-0.9,"q":0.56,"v":220},{"a":-0.9,"q":0.6,"v":245},{"a":-0.9,"q":0.64,"v":268},{"a":-0.9,"q":0.68,"v":290},{"a":-0.9,"q":0.72,"v":308},{"a":-0.9,"q":0.76,"v":322},{"a":-0.9,"q":0.8,"v":335},{"a":-0.9,"q":0.84,"v":345},{"a":-0.9,"q":0.88,"v":355},{"a":-0.9,"q":0.92,"v":372},{"a":-0.9,"q":0.96,"v":390},
{"a":-1,"q":0,"v":5},{"a":-1,"q":0.04,"v":14},{"a":-1,"q":0.08,"v":48},{"a":-1,"q":0.12,"v":72},{"a":-1,"q":0.16,"v":84},{"a":-1,"q":0.2,"v":92},{"a":-1,"q":0.24,"v":98},{"a":-1,"q":0.28,"v":105},{"a":-1,"q":0.32,"v":110},{"a":-1,"q":0.36,"v":115},{"a":-1,"q":0.4,"v":135},{"a":-1,"q":0.44,"v":170},{"a":-1,"q":0.48,"v":196},{"a":-1,"q":0.52,"v":220},{"a":-1,"q":0.56,"v":248},{"a":-1,"q":0.6,"v":270},{"a":-1,"q":0.64,"v":295},{"a":-1,"q":0.68,"v":320},{"a":-1,"q":0.72,"v":342},{"a":-1,"q":0.76,"v":358},{"a":-1,"q":0.8,"v":370},{"a":-1,"q":0.84,"v":383},{"a":-1,"q":0.88,"v":398},{"a":-1,"q":0.92,"v":425},{"a":-1,"q":0.96,"v":450}
],
"lc": [
{"c":"A","i":0,"q":0.096,"e":0},{"c":"A","i":1,"q":0.079,"e":0.25},
{"c":"B","i":0,"q":0.874,"e":0},{"c":"B","i":1,"q":0.908,"e":0.25}
],
"rc": [
{"c":"A","i":0,"q":0.065,"a":1},{"c":"A","i":1,"q":0.07,"a":0.87},{"c":"A","i":2,"q":0.081,"a":0.53},{"c":"A","i":3,"q":0.092,"a":0.18},{"c":"A","i":4,"q":0.095,"a":0.04},{"c":"A","i":5,"q":0.105,"a":-0.13},{"c":"A","i":6,"q":0.124,"a":-0.306},{"c":"A","i":7,"q":0.143,"a":-0.48},{"c":"A","i":8,"q":0.154,"a":-0.645},{"c":"A","i":9,"q":0.157,"a":-0.73},{"c":"A","i":10,"q":0.152,"a":-0.82},{"c":"A","i":11,"q":0.143,"a":-1},
{"c":"B","i":0,"q":1,"a":0.105},{"c":"B","i":1,"q":0.94,"a":0.07},{"c":"B","i":2,"q":0.89,"a":0.04},{"c":"B","i":3,"q":0.816,"a":-0.03},{"c":"B","i":4,"q":0.76,"a":-0.085},{"c":"B","i":5,"q":0.725,"a":-0.125},{"c":"B","i":6,"q":0.705,"a":-0.16},{"c":"B","i":7,"q":0.712,"a":-0.185},{"c":"B","i":8,"q":0.74,"a":-0.2},{"c":"B","i":9,"q":0.78,"a":-0.193},{"c":"B","i":10,"q":0.816,"a":-0.177},{"c":"B","i":11,"q":0.88,"a":-0.15},{"c":"B","i":12,"q":0.94,"a":-0.127},{"c":"B","i":13,"q":1,"a":-0.105}
],
"lp": [
{"q":0.254,"e":0.002,"t":"159"},{"q":0.353,"e":0.002,"t":"176"},{"q":0.488,"e":0.002,"t":"160"},{"q":0.67,"e":0.002,"t":"108"},{"q":0.872,"e":0.002,"t":"101"}
],
"rp": [
{"q":1,"a":0.8,"t":"392"},{"q":1,"a":0.6,"t":"285"},{"q":1,"a":0.4,"t":"190"},{"q":1,"a":0.2,"t":"96"}
],
"rl": [
{"q":1,"a":0.6,"t":"260"},{"q":1,"a":0.2,"t":"89.8"}
],
"rs": [
{"q":0.677,"a":0,"t":"95.8"}
]
},
"hconcat": [
{
"width": 445, "height": 389,
"resolve": {"axis": {"x": "independent", "y": "independent"}},
"layer": [
{
"data": {"name": "lh"},
"mark": {"type": "rect", "binSpacing": -1},
"encoding": {
"x": {"field": "q", "type": "quantitative", "bin": {"binned": true, "step": 0.025}, "scale": {"domain": [0, 1], "nice": false, "zero": false}, "axis": {"values": [0, 0.2, 0.4, 0.6, 0.8, 1], "format": ".1f", "labelFlush": false, "titlePadding": 11}, "title": "mass ratio q"},
"y": {"field": "e", "type": "quantitative", "bin": {"binned": true, "step": 0.025}, "scale": {"domain": [0, 0.25], "nice": false, "zero": false}, "axis": {"values": [0, 0.05, 0.1, 0.15, 0.2, 0.25], "format": ".2f", "labelFlush": true, "titlePadding": 9}, "title": "eccentricity"},
"color": {"field": "v", "type": "quantitative",
"scale": {"type": "linear", "interpolate": "rgb", "domain": [0, 13.15, 26.3, 39.45, 52.6, 63.12, 78.9, 89.42, 105.2, 120.98, 136.76, 152.54, 173.58, 189.36, 199.88, 210.4, 220.92, 231.44, 244.59, 263], "range": ["#000000", "#200028", "#40005a", "#5a10a0", "#3a10e0", "#0020ff", "#0060ff", "#0090ff", "#00f0ff", "#00ffc0", "#00ff80", "#00ff00", "#90ff00", "#e0ff00", "#ffff00", "#ffc800", "#ff9000", "#ff5000", "#ff0000", "#ff0000"]},
"legend": {"type": "gradient", "orient": "none", "legendX": -102, "legendY": 29, "direction": "vertical", "gradientLength": 341, "gradientThickness": 38, "title": null, "values": [0, 43.9, 87.7, 132, 175, 219, 263], "labelExpr": "datum.value == 0 ? '0.00' : datum.value >= 100 ? format(datum.value, '.0f') + '.' : format(datum.value, '.1f')", "labelOffset": -73, "labelOverlap": false}}
}
},
{
"data": {"name": "lc"},
"mark": {"type": "line", "stroke": "#efe2ff", "strokeWidth": 2},
"encoding": {
"x": {"field": "q", "type": "quantitative", "axis": {"orient": "top", "values": [0, 0.2, 0.4, 0.6, 0.8, 1], "labels": false}, "title": null},
"y": {"field": "e", "type": "quantitative", "axis": {"orient": "right", "values": [0, 0.05, 0.1, 0.15, 0.2, 0.25], "labels": false}, "title": null},
"detail": {"field": "c"},
"order": {"field": "i"}
}
},
{
"data": {"name": "lp"},
"mark": {"type": "circle", "size": 50, "fill": "black", "opacity": 1},
"encoding": {
"x": {"field": "q", "type": "quantitative", "axis": {"orient": "bottom", "values": [0.05, 0.1, 0.15, 0.25, 0.3, 0.35, 0.45, 0.5, 0.55, 0.65, 0.7, 0.75, 0.85, 0.9, 0.95], "labels": false, "domain": false, "tickSize": -3}, "title": null},
"y": {"field": "e", "type": "quantitative", "axis": {"orient": "left", "values": [0.01, 0.02, 0.03, 0.04, 0.06, 0.07, 0.08, 0.09, 0.11, 0.12, 0.13, 0.14, 0.16, 0.17, 0.18, 0.19, 0.21, 0.22, 0.23, 0.24], "labels": false, "domain": false, "tickSize": -3}, "title": null}
}
},
{
"data": {"name": "lp"},
"mark": {"type": "text", "align": "right", "baseline": "middle", "dx": -7, "dy": -1, "fontSize": 12.5, "fill": "black", "opacity": 0.3},
"encoding": {
"x": {"field": "q", "type": "quantitative", "axis": {"orient": "top", "values": [0.05, 0.1, 0.15, 0.25, 0.3, 0.35, 0.45, 0.5, 0.55, 0.65, 0.7, 0.75, 0.85, 0.9, 0.95], "labels": false, "domain": false, "tickSize": -3}, "title": null},
"y": {"field": "e", "type": "quantitative", "axis": {"orient": "right", "values": [0.01, 0.02, 0.03, 0.04, 0.06, 0.07, 0.08, 0.09, 0.11, 0.12, 0.13, 0.14, 0.16, 0.17, 0.18, 0.19, 0.21, 0.22, 0.23, 0.24], "labels": false, "domain": false, "tickSize": -3}, "title": null},
"text": {"field": "t"}
}
}
]
},
{
"width": 446, "height": 389,
"resolve": {"axis": {"x": "independent", "y": "independent"}},
"layer": [
{
"data": {"name": "rh"},
"mark": {"type": "rect", "binSpacing": -1},
"encoding": {
"x": {"field": "q", "type": "quantitative", "bin": {"binned": true, "step": 0.04}, "scale": {"domain": [0, 1], "nice": false, "zero": false}, "axis": {"values": [0, 0.2, 0.4, 0.6, 0.8, 1], "format": ".1f", "labelFlush": false, "titlePadding": 11}, "title": "mass ratio q"},
"y": {"field": "a", "type": "quantitative", "bin": {"binned": true, "step": 0.1}, "scale": {"domain": [-1, 1], "nice": false, "zero": false}, "axis": {"values": [-1, -0.5, 0, 0.5, 1], "format": ".1f", "labelFlush": true, "titlePadding": 5}, "title": "spin parameter a"},
"color": {"field": "v", "type": "quantitative",
"scale": {"type": "linear", "interpolate": "rgb", "domain": [0, 26, 52, 78, 104, 124.8, 156, 176.8, 208, 239.2, 270.4, 301.6, 343.2, 374.4, 395.2, 416, 436.8, 457.6, 483.6, 520], "range": ["#000000", "#200028", "#40005a", "#5a10a0", "#3a10e0", "#0020ff", "#0060ff", "#0090ff", "#00f0ff", "#00ffc0", "#00ff80", "#00ff00", "#90ff00", "#e0ff00", "#ffff00", "#ffc800", "#ff9000", "#ff5000", "#ff0000", "#ff0000"]},
"legend": {"type": "gradient", "orient": "none", "legendX": -104, "legendY": 29, "direction": "vertical", "gradientLength": 341, "gradientThickness": 39, "title": null, "values": [0, 86.7, 173, 260, 347, 433, 520], "labelExpr": "datum.value == 0 ? '0.00' : datum.value >= 100 ? format(datum.value, '.0f') + '.' : format(datum.value, '.1f')", "labelOffset": -74, "labelOverlap": false}}
}
},
{
"data": {"name": "rc"},
"mark": {"type": "line", "stroke": "#efe2ff", "strokeWidth": 2, "interpolate": "cardinal"},
"encoding": {
"x": {"field": "q", "type": "quantitative", "axis": {"orient": "top", "values": [0, 0.2, 0.4, 0.6, 0.8, 1], "labels": false}, "title": null},
"y": {"field": "a", "type": "quantitative", "axis": {"orient": "right", "values": [-1, -0.5, 0, 0.5, 1], "labels": false}, "title": null},
"detail": {"field": "c"},
"order": {"field": "i"}
}
},
{
"data": {"name": "rp"},
"mark": {"type": "circle", "size": 50, "fill": "white", "opacity": 1},
"encoding": {
"x": {"field": "q", "type": "quantitative", "axis": {"orient": "bottom", "values": [0.05, 0.1, 0.15, 0.25, 0.3, 0.35, 0.45, 0.5, 0.55, 0.65, 0.7, 0.75, 0.85, 0.9, 0.95], "labels": false, "domain": false, "tickSize": -3}, "title": null},
"y": {"field": "a", "type": "quantitative", "axis": {"orient": "left", "values": [-0.9, -0.8, -0.7, -0.6, -0.4, -0.3, -0.2, -0.1, 0.1, 0.2, 0.3, 0.4, 0.6, 0.7, 0.8, 0.9], "labels": false, "domain": false, "tickSize": -3}, "title": null}
}
},
{
"data": {"name": "rp"},
"mark": {"type": "text", "align": "left", "baseline": "middle", "dx": 6, "fontSize": 12.5, "fill": "#d8d8d8"},
"encoding": {
"x": {"field": "q", "type": "quantitative", "axis": {"orient": "top", "values": [0.05, 0.1, 0.15, 0.25, 0.3, 0.35, 0.45, 0.5, 0.55, 0.65, 0.7, 0.75, 0.85, 0.9, 0.95], "labels": false, "domain": false, "tickSize": -3}, "title": null},
"y": {"field": "a", "type": "quantitative", "axis": {"orient": "right", "values": [-0.9, -0.8, -0.7, -0.6, -0.4, -0.3, -0.2, -0.1, 0.1, 0.2, 0.3, 0.4, 0.6, 0.7, 0.8, 0.9], "labels": false, "domain": false, "tickSize": -3}, "title": null},
"text": {"field": "t"}
}
},
{
"data": {"name": "rl"},
"mark": {"type": "text", "align": "right", "baseline": "middle", "dx": -7, "fontSize": 12.5, "fill": "#c8c8f4", "opacity": 0.75},
"encoding": {
"x": {"field": "q", "type": "quantitative", "axis": null},
"y": {"field": "a", "type": "quantitative", "axis": null},
"text": {"field": "t"}
}
},
{
"data": {"name": "rs"},
"mark": {"type": "point", "shape": "M0,-1L0.22,-0.31L0.95,-0.31L0.36,0.12L0.59,0.81L0,0.38L-0.59,0.81L-0.36,0.12L-0.95,-0.31L-0.22,-0.31Z", "size": 70, "filled": true, "fill": "white", "opacity": 1},
"encoding": {
"x": {"field": "q", "type": "quantitative", "axis": null},
"y": {"field": "a", "type": "quantitative", "axis": null}
}
},
{
"data": {"name": "rs"},
"mark": {"type": "text", "align": "right", "baseline": "middle", "dx": -8, "fontSize": 12.5, "fill": "#9aa0ff"},
"encoding": {
"x": {"field": "q", "type": "quantitative", "axis": null},
"y": {"field": "a", "type": "quantitative", "axis": null},
"text": {"field": "t"}
}
}
]
}
],
"config": {
"view": {"stroke": null},
"axis": {"domain": true, "domainColor": "#d8d8d8", "grid": false, "labelColor": "#d8d8d8", "labelFont": "DejaVu Sans", "labelFontSize": 12.5, "tickColor": "#d8d8d8", "tickSize": -6, "labelPadding": 11, "titleColor": "#d8d8d8", "titleFont": "DejaVu Sans", "titleFontSize": 12, "titleFontWeight": "normal"},
"legend": {"labelColor": "#d8d8d8", "labelFont": "DejaVu Sans", "labelFontSize": 12.5, "gradientStrokeColor": "#e8e8e8", "gradientStrokeWidth": 1, "padding": 0},
"text": {"font": "DejaVu Sans"}
}
}
